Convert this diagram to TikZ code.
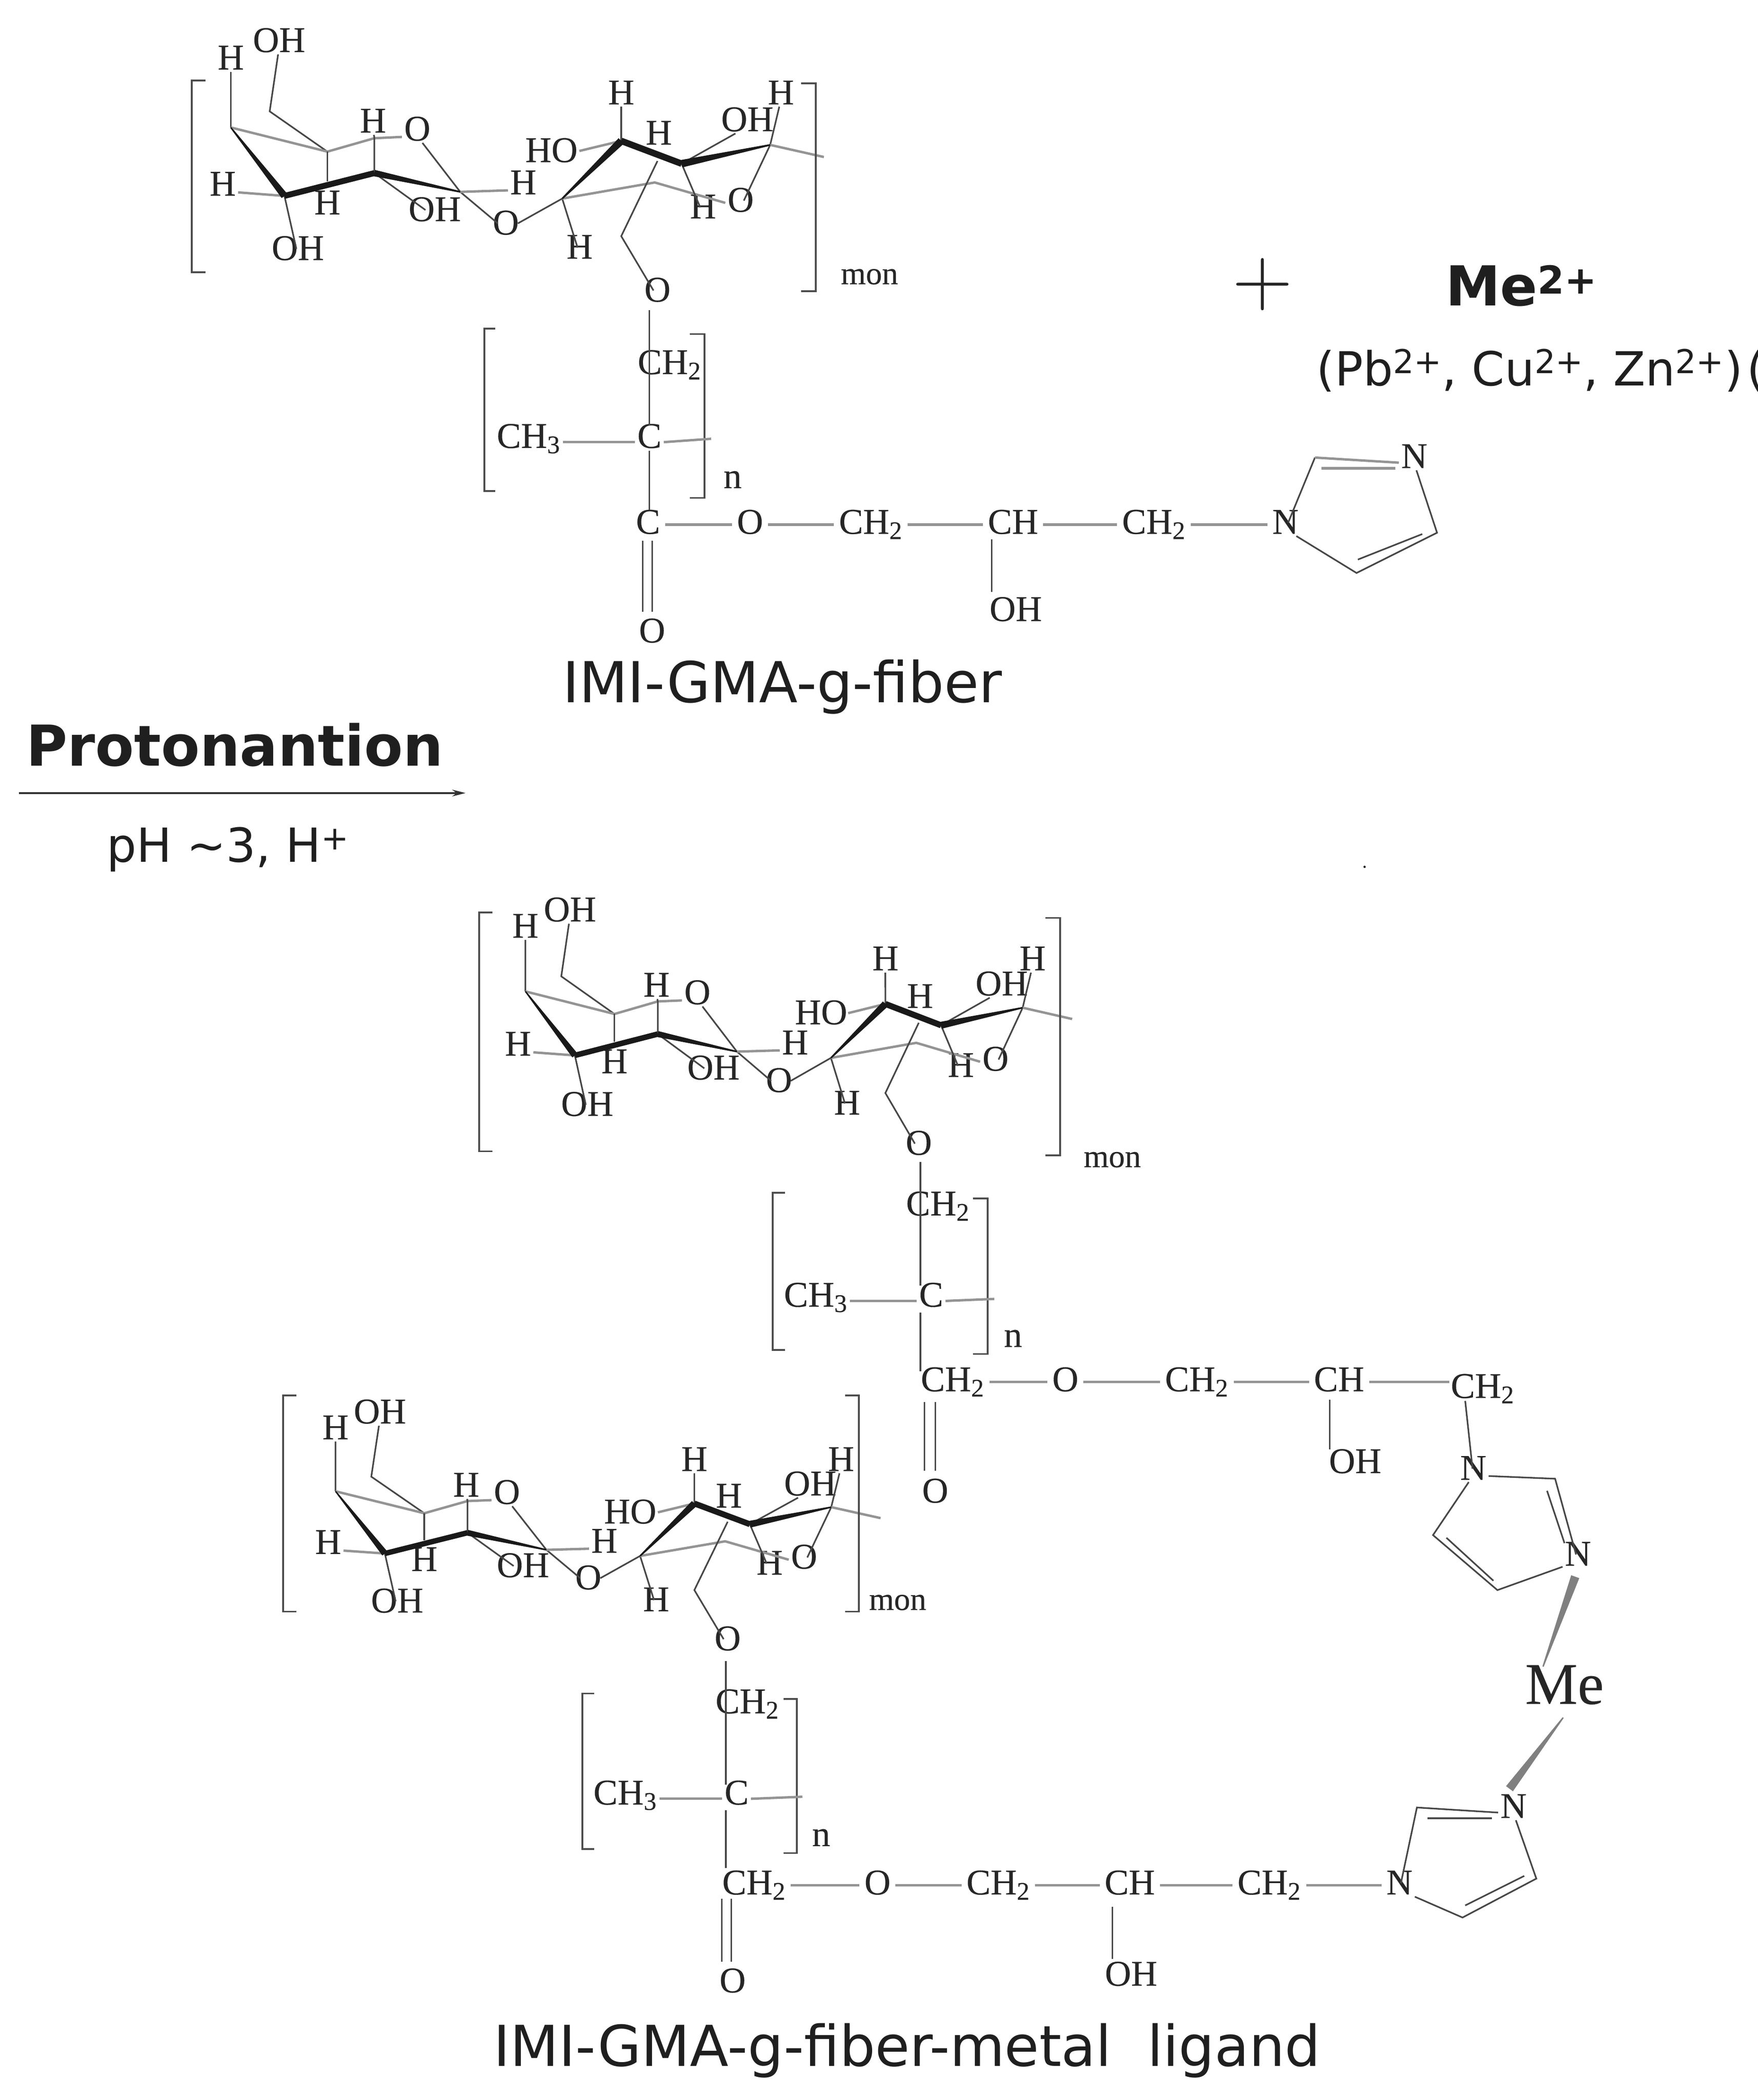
\documentclass[tikz,border=0pt]{standalone}
\usepackage{fontspec}
\setmainfont[FakeBold=0.25]{Liberation Serif}
\newfontfamily\vsans{DejaVu Sans}
\newfontfamily\lmplus{Latin Modern Roman}
\usetikzlibrary{calc,arrows.meta}
\newcommand{\fsz}[1]{\fontsize{#1}{#1}\selectfont}
\newcommand{\wdg}[5][black!90]{\fill[#1] ($(#2)!#4!90:(#3)$) -- ($(#2)!#4!-90:(#3)$) -- ($(#3)!#5!90:(#2)$) -- ($(#3)!#5!-90:(#2)$) -- cycle;}
\newcommand{\chn}[2]{\draw[gbnd] ([yshift=3.5pt,xshift=2pt]#1.east) -- ([yshift=3.5pt,xshift=-2pt]#2.west);}
\tikzset{
  atom/.style={inner sep=1.5pt,text height=0.66em,text depth=0pt,yshift=-2.5pt,font=\fsz{27},text=black!85},
  bnd/.style={line width=1.2pt,draw=black!72},
  gbnd/.style={line width=1.8pt,draw=black!42},
  brk/.style={line width=1.3pt,draw=black!70},
  lbl/.style={inner sep=0pt,font=\vsans\fsz{42},text=black!88},
  sugar/.pic={
    \coordinate (a) at (172,95); \coordinate (b) at (244,113); \coordinate (c) at (279,103);
    \coordinate (d) at (212,146); \coordinate (e) at (279,129); \coordinate (f) at (343,143);
    \coordinate (g) at (419,148); \coordinate (h) at (463,105); \coordinate (i) at (508,122);
    \coordinate (j) at (574,108); \coordinate (k) at (488,136); \coordinate (end) at (614,117);
    \coordinate (bx) at (244,135); \coordinate (m) at (490,120); \coordinate (m2) at (463,176);
    \node[atom] (h1) at (172,46) {H};
    \node[atom] (oh1) at (208,33) {OH};
    \node[atom] (h2) at (166,140) {H};
    \node[atom] (h3) at (278,93) {H};
    \node[atom] (o1) at (311,99) {O};
    \node[atom] (h4) at (244,154) {H};
    \node[atom] (oh2) at (324,159) {OH};
    \node[atom] (h5) at (390,139) {H};
    \node[atom] (o2) at (377,169) {O};
    \node[atom] (oh3) at (222,188) {OH};
    \node[atom] (ho) at (411,115) {HO};
    \node[atom] (h6) at (463,72) {H};
    \node[atom] (h7) at (491,102) {H};
    \node[atom] (oh4) at (557,92) {OH};
    \node[atom] (h8) at (582,72) {H};
    \node[atom] (h9) at (524,157) {H};
    \node[atom] (o3) at (552,152) {O};
    \node[atom] (h10) at (432,187) {H};
    \node[atom] (o4) at (490,219) {O};
    \draw[bnd] (h1) -- (a);
    \draw[bnd] (oh1) -- (201,83) -- (b);
    \draw[gbnd] (a) -- (b) -- (c) -- (o1);
    \draw[bnd] (b) -- (bx);
    \draw[bnd] (h3) -- (c) -- (e);
    \draw[bnd] (o1) -- (f) -- (o2);
    \draw[gbnd] (f) -- (h5);
    \draw[bnd] (e) -- (oh2);
    \draw[gbnd] (h2) -- (d);
    \draw[bnd] (d) -- (oh3);
    \draw[bnd] (o2) -- (g);
    \draw[bnd] (g) -- (h10);
    \draw[gbnd] (g) -- (k) -- (o3);
    \draw[gbnd] (ho) -- (h);
    \draw[bnd] (h6) -- (h);
    \draw[bnd] (m) -- (m2) -- (o4);
    \draw[bnd] (i) -- (oh4);
    \draw[bnd] (i) -- (h9);
    \draw[bnd] (h8) -- (j) -- (o3);
    \draw[gbnd] (j) -- (end);
    \wdg{a}{d}{0.5pt}{2.6pt}
    \wdg{d}{e}{2.2pt}{2.2pt}
    \wdg{e}{f}{2.4pt}{0.6pt}
    \wdg{g}{h}{0.6pt}{2.8pt}
    \wdg{h}{i}{2.4pt}{2.4pt}
    \wdg{i}{j}{2.8pt}{0.6pt}
  }
}
\begin{document}
\begin{tikzpicture}[x=1pt,y=-1pt]
\useasboundingbox (0,0) rectangle (1310,1565);
\fill[white] (0,0) rectangle (1310,1565);

% ---- top fibre
\pic (s1) {sugar};
\draw[brk] (153,60) -| (143,203) -- (153,203);
\draw[brk] (597,62) -| (608,217) -- (597,217);
\node[atom,font=\fsz{24}] (mon1) at (648,206) {mon};
\node[atom] (ch2a) at (499,273) {CH\textsubscript{2}};
\node[atom] (cc1) at (484,328) {C};
\node[atom] (ch3a) at (394,328) {CH\textsubscript{3}};
\node[atom] (c1) at (483,392) {C};
\node[atom] (oa) at (559,392) {O};
\node[atom] (ch2b) at (649,392) {CH\textsubscript{2}};
\node[atom] (cha) at (755,392) {CH};
\node[atom] (ch2c) at (860,392) {CH\textsubscript{2}};
\node[atom] (n1) at (958,392) {N};
\node[atom] (n2) at (1054,343) {N};
\node[atom] (oh1a) at (757,457) {OH};
\node[atom] (o1a) at (486,473) {O};
\node[atom] (n1lab) at (546,358) {n};
\coordinate (r1a) at (980,341); \coordinate (r1b) at (1071,397); \coordinate (r1c) at (1011,427);
\coordinate (v1a) at (484,231); \coordinate (v1b) at (484,317); \coordinate (v1c) at (484,336); \coordinate (v1d) at (484,380);
\coordinate (e1) at (530,327);
\draw[brk] (369,245) -| (361,366) -- (369,366);
\draw[brk] (514,249) -| (525,371) -- (514,371);
\draw[bnd] (v1a) -- (v1b);
\draw[bnd] (v1c) -- (v1d);
\draw[gbnd] ([yshift=1pt]ch3a.east) -- ([yshift=1pt]cc1.west);
\draw[gbnd] ([yshift=1pt]cc1.east) -- (e1);
\chn{c1}{oa}\chn{oa}{ch2b}\chn{ch2b}{cha}\chn{cha}{ch2c}\chn{ch2c}{n1}
\draw[bnd] (739,402) -- (739,441);
\draw[bnd] (479,403) -- (479,456);
\draw[bnd] (486,403) -- (486,456);
\draw[bnd] (n1) -- (r1a);
\draw[gbnd] (r1a) -- (n2);
\draw[gbnd] (985,349) -- (1040,349);
\draw[bnd] (n2) -- (r1b) -- (r1c) -- (n1);
\draw[bnd] (1012,417) -- (1060,398);

% ---- plus and metal
\node[inner sep=0pt,font=\lmplus\fsz{62},text=black!85] (plus) at (941,212) {+};
\node[lbl,font=\vsans\bfseries\fsz{41}] (me2) at (1134,213) {Me\textsuperscript{2+}};
\node[lbl,anchor=west,font=\vsans\fsz{35}] (ions) at (981,276) {(Pb\textsuperscript{2+}, Cu\textsuperscript{2+}, Zn\textsuperscript{2+})\hspace{3pt}(};

% ---- labels and arrow
\node[lbl] (t1) at (583,512) {IMI-GMA-g-fiber};
\node[lbl,font=\vsans\bfseries\fsz{42}] (t2) at (175,555) {Protonantion};
\coordinate (ars) at (14,591); \coordinate (are) at (347,591);
\draw[line width=1.2pt,draw=black!80,-{Stealth[length=10pt,width=5pt]}] (ars) -- (are);
\node[lbl,font=\vsans\fsz{35}] (t3) at (170,633) {pH \textasciitilde3, H\textsuperscript{+}};
\node[lbl,font=\fsz{14}] (dot1) at (1017,646) {.};

% ---- second fibre
\pic[shift={(233,650)},xscale=.922,yscale=.935] (s2) {sugar};
\draw[brk] (367,680) -| (357,858) -- (367,858);
\draw[brk] (779,684) -| (790,861) -- (779,861);
\node[atom,font=\fsz{24}] (mon2) at (829,864) {mon};
\node[atom] (ch2d) at (699,900) {CH\textsubscript{2}};
\node[atom] (cc2) at (694,968) {C};
\node[atom] (ch3b) at (608,968) {CH\textsubscript{3}};
\node[atom] (c2) at (710,1031) {CH\textsubscript{2}};
\node[atom] (ob) at (794,1031) {O};
\node[atom] (ch2e) at (892,1031) {CH\textsubscript{2}};
\node[atom] (chb) at (998,1031) {CH};
\node[atom] (ch2f) at (1105,1036) {CH\textsubscript{2}};
\node[atom] (oh2a) at (1010,1092) {OH};
\node[atom] (o2a) at (697,1114) {O};
\node[atom] (n2lab) at (755,998) {n};
\node[atom] (n3) at (1098,1097) {N};
\node[atom] (n4) at (1176,1161) {N};
\node[atom,font=\fsz{44}] (mecen) at (1166,1264) {Me};
\node[atom] (n5) at (1128,1349) {N};
\node[atom] (n6) at (1043,1406) {N};
\coordinate (e2) at (741,968);
\coordinate (v2a) at (686,866); \coordinate (v2b) at (686,958); \coordinate (v2c) at (686,978); \coordinate (v2d) at (686,1022);
\draw[brk] (585,889) -| (576,1006) -- (585,1006);
\draw[brk] (725,893) -| (736,1009) -- (725,1009);
\draw[bnd] (v2a) -- (v2b);
\draw[bnd] (v2c) -- (v2d);
\draw[gbnd] ([yshift=1pt]ch3b.east) -- ([yshift=1pt]cc2.west);
\draw[gbnd] ([yshift=1pt]cc2.east) -- (e2);
\chn{c2}{ob}\chn{ob}{ch2e}\chn{ch2e}{chb}
\coordinate (b2e) at (1080,1030);
\draw[gbnd] ([yshift=3.5pt,xshift=2pt]chb.east) -- (b2e);
\draw[bnd] (991,1043) -- (991,1080);
\draw[bnd] (689,1045) -- (689,1096);
\draw[bnd] (697,1045) -- (697,1096);
\coordinate (r2a) at (1159,1102); \coordinate (r2b) at (1068,1144); \coordinate (r2c) at (1116,1185);
\draw[bnd] (1092,1044) -- (n3);
\draw[bnd] (n3) -- (r2a) -- (n4) -- (r2c) -- (r2b) -- (n3);
\draw[bnd] (1153,1111) -- (1166,1150);
\draw[bnd] (1078,1146) -- (1113,1178);
\coordinate (w1s) at (1174,1175); \coordinate (w1e) at (1150,1242);
\coordinate (w2s) at (1165,1280); \coordinate (w2e) at (1125,1333);
\wdg[black!50]{w1s}{w1e}{3.2pt}{0.5pt}
\wdg[black!50]{w2s}{w2e}{0.5pt}{3.2pt}

% ---- third fibre
\pic[shift={(92,1025)},xscale=.919,yscale=.909] (s3) {sugar};
\draw[brk] (221,1040) -| (211,1201) -- (221,1201);
\draw[brk] (630,1040) -| (640,1201) -- (630,1201);
\node[atom,font=\fsz{24}] (mon3) at (669,1194) {mon};
\node[atom] (ch2g) at (557,1271) {CH\textsubscript{2}};
\node[atom] (cc3) at (549,1339) {C};
\node[atom] (ch3c) at (466,1339) {CH\textsubscript{3}};
\node[atom] (c3) at (562,1406) {CH\textsubscript{2}};
\node[atom] (oc) at (654,1406) {O};
\node[atom] (ch2h) at (744,1406) {CH\textsubscript{2}};
\node[atom] (chc) at (842,1406) {CH};
\node[atom] (ch2i) at (946,1406) {CH\textsubscript{2}};
\node[atom] (oh3a) at (843,1474) {OH};
\node[atom] (o3a) at (546,1479) {O};
\node[atom] (n3lab) at (612,1370) {n};
\coordinate (e3) at (598,1339);
\coordinate (v3a) at (541,1238); \coordinate (v3b) at (541,1330); \coordinate (v3c) at (541,1349); \coordinate (v3d) at (541,1392);
\draw[brk] (443,1262) -| (434,1378) -- (443,1378);
\draw[brk] (584,1266) -| (594,1381) -- (584,1381);
\draw[bnd] (v3a) -- (v3b);
\draw[bnd] (v3c) -- (v3d);
\draw[gbnd] ([yshift=1pt]ch3c.east) -- ([yshift=1pt]cc3.west);
\draw[gbnd] ([yshift=1pt]cc3.east) -- (e3);
\chn{c3}{oc}\chn{oc}{ch2h}\chn{ch2h}{chc}\chn{chc}{ch2i}\chn{ch2i}{n6}
\draw[bnd] (829,1421) -- (829,1460);
\draw[bnd] (538,1415) -- (538,1462);
\draw[bnd] (545,1415) -- (545,1462);
\coordinate (r3a) at (1056,1347); \coordinate (r3b) at (1145,1400); \coordinate (r3c) at (1090,1429);
\draw[bnd] (n6) -- (r3a) -- (n5) -- (r3b) -- (r3c) -- (n6);
\draw[bnd] (1064,1355) -- (1112,1355);
\draw[bnd] (1092,1420) -- (1136,1398);

% ---- bottom label
\node[lbl] (t4) at (676,1528) {IMI-GMA-g-fiber-metal\ \ ligand};
\end{tikzpicture}
\end{document}
